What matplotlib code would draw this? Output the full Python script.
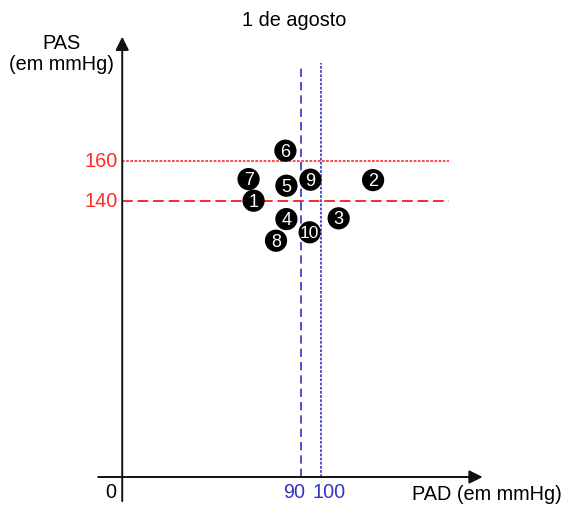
import matplotlib
matplotlib.use("Agg")
import matplotlib.pyplot as plt

plt.rcParams['font.family'] = ['Liberation Sans', 'DejaVu Sans']

# readings (PAD, PAS) in mmHg, numbered 1..10
labels = ['1', '2', '3', '4', '5', '6', '7', '8', '9', '10']
pad = [66.3, 126.0, 108.8, 82.7, 82.7, 82.2, 63.8, 77.5, 94.7, 94.3]
pas = [140.0, 150.3, 131.2, 130.8, 147.5, 165.0, 150.8, 120.0, 150.5, 124.2]

pas_limits = [140, 160]
pad_limits = [90, 100]

red = '#ff2a2a'
blue = '#3434c0'

fig = plt.figure(figsize=(5.63, 5.06), dpi=100)
ax = fig.add_axes([0, 0, 1, 1])
ax.set_xlim(-60.35, 220.85)
ax.set_ylim(-12.15, 240.85)
ax.axis('off')

# axes with arrows
ax.annotate('', xy=(0.7, 222), xytext=(0.7, -10.2),
            arrowprops=dict(arrowstyle='-|>', color='#111111', lw=1.4,
                            mutation_scale=20, shrinkA=0, shrinkB=0))
ax.annotate('', xy=(180.7, 1.85), xytext=(-11.3, 1.85),
            arrowprops=dict(arrowstyle='-|>', color='#111111', lw=1.4,
                            mutation_scale=20, shrinkA=0, shrinkB=0))

# reference lines
ax.plot([0.7, 164], [pas_limits[1]] * 2, color=red, lw=1.2, ls=(0, (1.6, 0.9)))
ax.plot([0.7, 164], [pas_limits[0]] * 2, color=red, lw=1.4, ls=(0, (5.5, 2.5)))
ax.plot([pad_limits[0]] * 2, [1.85, 208], color=blue, lw=1.2, ls=(0, (5, 3)))
ax.plot([pad_limits[1]] * 2, [1.85, 209], color=blue, lw=1.2, ls=(0, (1.6, 0.9)))

# numbered points
ax.scatter(pad, pas, s=16 ** 2, color='black', zorder=3, edgecolors='none')
for lab, x, y in zip(labels, pad, pas):
    fs = 12.5 if len(lab) > 1 else 13
    ax.text(x, y - 0.3, lab, color='white', fontsize=fs, ha='center', va='center', zorder=4)

# tick labels
fs_txt = 14.3
ax.text(-1.5, pas_limits[1], '160', color=red, fontsize=fs_txt, ha='right', va='center')
ax.text(-1.5, pas_limits[0], '140', color=red, fontsize=fs_txt, ha='right', va='center')
ax.text(-5, -5.5, '0', color='black', fontsize=fs_txt, ha='center', va='center')
ax.text(86.5, -5.5, '90', color=blue, fontsize=fs_txt, ha='center', va='center')
ax.text(104.2, -5.5, '100', color=blue, fontsize=fs_txt, ha='center', va='center')

# axis titles
ax.text(145.2, -6.5, 'PAD (em mmHg)', fontsize=fs_txt, ha='left', va='center')
ax.text(-29.5, 213.8, 'PAS\n(em mmHg)', fontsize=fs_txt, ha='center', va='center',
        linespacing=1.1)
ax.text(86.5, 230.8, '1 de agosto', fontsize=fs_txt, ha='center', va='center')

fig.savefig('out.png', dpi=100)
